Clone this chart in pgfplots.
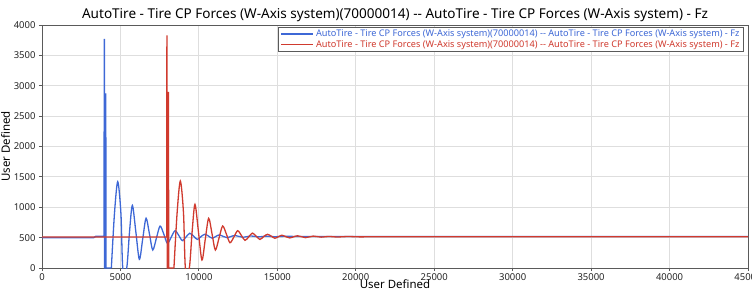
\documentclass[border=0pt]{standalone}
\usepackage{fontspec}
\setmainfont{Noto Sans}
\usepackage{pgfplots}
\pgfplotsset{compat=1.18}
\definecolor{bl}{RGB}{62,104,214}
\definecolor{rd}{RGB}{208,58,46}
\definecolor{gridc}{RGB}{222,222,222}
\definecolor{axc}{RGB}{90,90,90}
\begin{document}
\begin{tikzpicture}
\begin{axis}[
  name=ax,
  scale only axis,
  width=706bp, height=243bp,
  xmin=0, xmax=45000, ymin=0, ymax=4000,
  xtick={0,5000,...,45000}, ytick={0,500,...,4000},
  scaled ticks=false,
  /pgf/number format/.cd, fixed, 1000 sep={}, assume math mode=true,
  /pgfplots/.cd,
  tick label style={font=\fontsize{9.5}{11}\selectfont, text=black!85},
  xticklabel style={yshift=1bp},
  grid=major,
  major grid style={gridc, line width=0.8bp},
  axis line style={axc, line width=1bp},
  tick style={axc, line width=0.8bp},
  tick align=outside,
  major tick length=3bp,
  xtick pos=bottom, ytick pos=left,
  title={AutoTire - Tire CP Forces (W-Axis system)(70000014) -{}- AutoTire - Tire CP Forces (W-Axis system) - Fz},
  title style={font=\fontsize{13.6}{15}\selectfont, yshift=-6bp},
  xlabel={User Defined}, ylabel={User Defined},
  label style={font=\fontsize{11.5}{13}\selectfont},
  xlabel style={yshift=7.5bp},
  ylabel style={yshift=-3bp},
  legend style={at={(0.994,0.993)}, anchor=north east, draw=axc, line width=0.8bp,
    font=\fontsize{9.2}{10.5}\selectfont, row sep=-2bp, inner xsep=2bp, inner ysep=1bp},
  legend cell align=left,
  legend image code/.code={\draw[#1, line width=1.5bp] (-2bp,0bp) -- (30bp,0bp);},
]
% Blue series
\addplot[bl, line width=1.4bp] coordinates {
(0,500) (3300,500) (3420,520) (3955,520) (3973,3770) (3990,0) (4045,0) (4062,2876) (4080,0) (4420,0)
};
\addlegendentry{\textcolor{bl}{AutoTire - Tire CP Forces (W-Axis system)(70000014) -{}- AutoTire - Tire CP Forces (W-Axis system) - Fz}}
\addplot[bl, line width=1.3bp, smooth, forget plot] coordinates {
(4420,0) (4620,900) (4827,1420) (5030,900) (5150,0) (5400,0) (5580,600) (5760,1030) (5980,600) (6205,143) (6420,480) (6633,818) (6850,560) (7060,296) (7300,500) (7526,690) (7760,560) (7991,406) (8240,510) (8482,614) (8720,535) (8950,450) (9180,510) (9420,572) (9660,525) (9900,470) (10150,520) (10380,555) (10620,525) (10850,490) (11080,520) (11300,545) (11550,520) (11800,500) (12300,535) (12800,505) (13300,528) (13800,512) (14300,525) (14800,515) (15500,522) (16500,518) (18000,520) (45000,520)
};
% Red series
\addplot[rd, line width=1.4bp] coordinates {
(0,510) (7950,510) (7965,3830) (7985,0) (8040,0) (8055,2900) (8075,0) (8410,0)
};
\addlegendentry{\textcolor{rd}{AutoTire - Tire CP Forces (W-Axis system)(70000014) -{}- AutoTire - Tire CP Forces (W-Axis system) - Fz}}
\addplot[rd, line width=1.3bp, smooth, forget plot] coordinates {
(8410,0) (8610,900) (8817,1432) (9020,900) (9140,0) (9390,0) (9570,600) (9750,1048) (9970,600) (10195,131) (10410,480) (10623,818) (10840,560) (11050,296) (11290,500) (11516,691) (11750,560) (11981,416) (12230,510) (12472,614) (12710,535) (12940,455) (13170,510) (13410,575) (13650,525) (13890,470) (14140,520) (14370,555) (14610,525) (14840,490) (15070,515) (15290,540) (15540,515) (15790,495) (16290,530) (16790,500) (17290,525) (17790,508) (18290,520) (18790,510) (19490,518) (20490,512) (22000,515) (45000,515)
};
\end{axis}
\pgfresetboundingbox
\path ([xshift=-42bp,yshift=-24bp]ax.south west) rectangle ([xshift=4bp,yshift=25bp]ax.north east);
\end{tikzpicture}
\end{document}
